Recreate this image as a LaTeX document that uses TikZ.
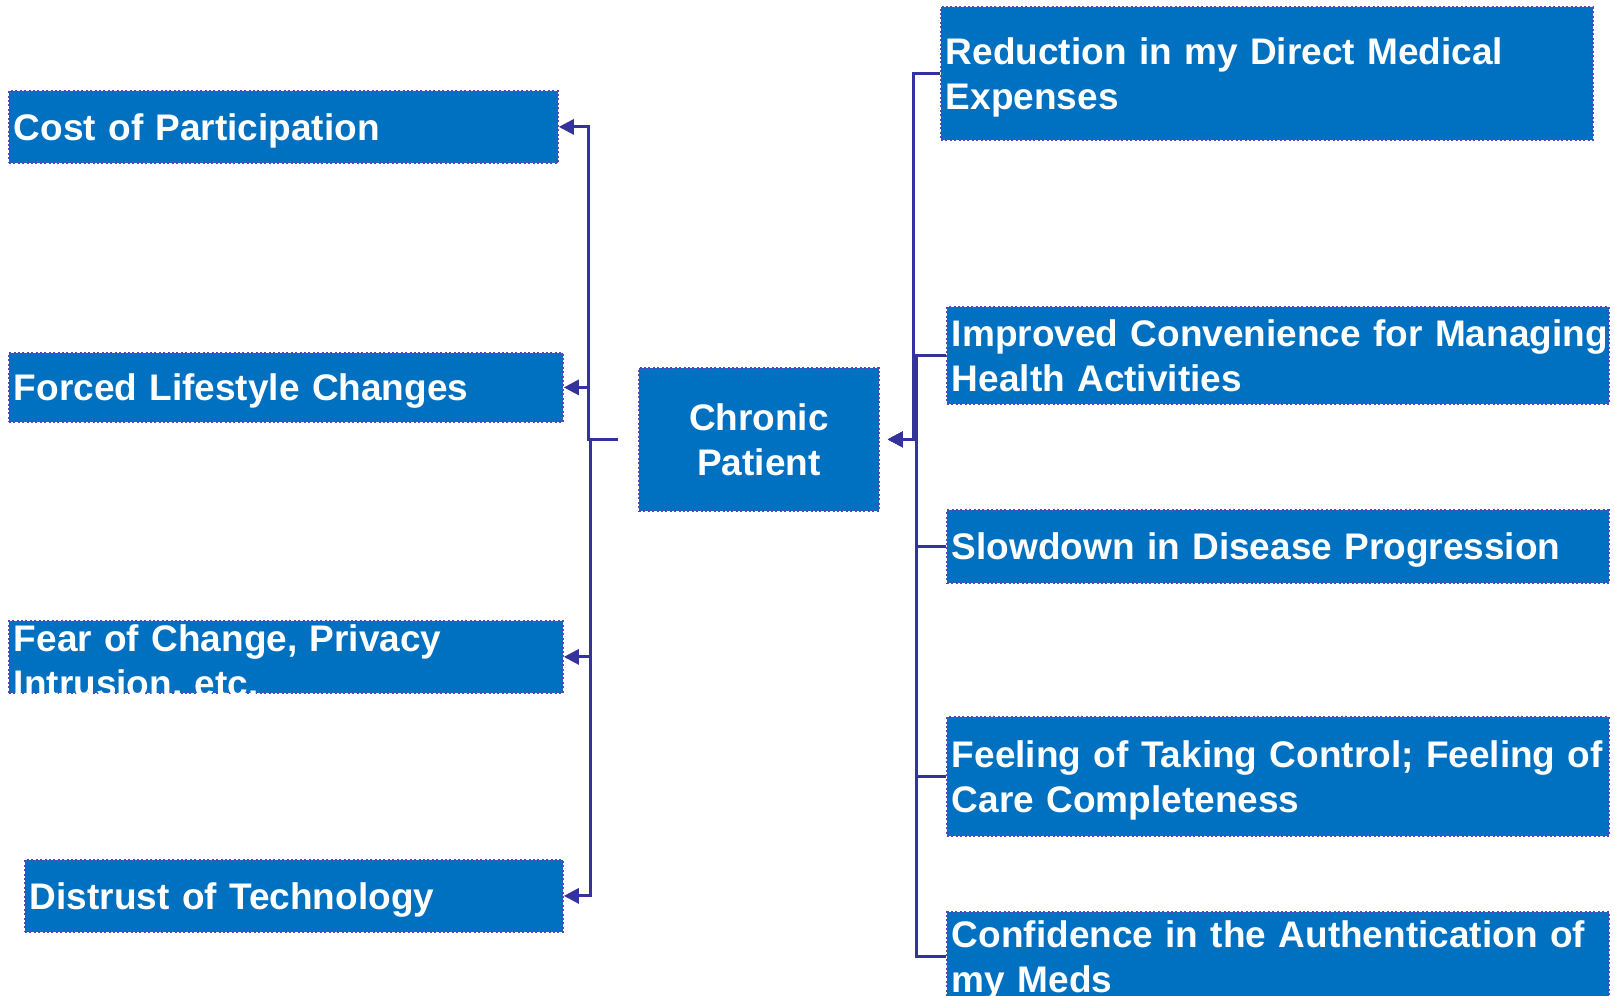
\documentclass[tikz,border=0pt]{standalone}
\usepackage{fontspec}
\setmainfont{Liberation Sans}
\usetikzlibrary{arrows.meta}
\definecolor{boxblue}{RGB}{0,112,192}
\definecolor{linkblue}{RGB}{52,50,156}
\definecolor{edgeblue}{RGB}{90,70,185}
\begin{document}
\begin{tikzpicture}[x=1pt,y=-1pt,
  box/.style={draw=edgeblue, dash pattern=on 2pt off 2.4pt, line width=1.8pt, fill=boxblue,
    text=white, font=\fontsize{37}{45}\selectfont\bfseries, anchor=north west,
    inner xsep=5pt, inner ysep=0pt, align=left, text depth=0pt},
  twoline/.style={text depth=45pt},
  link/.style={draw=linkblue, line width=3pt, solid,
    -{Triangle[length=15pt,width=15pt]}}]
\useasboundingbox (0,0) rectangle (1615,996);

% left boxes
\node[box, minimum width=549pt, minimum height=72pt, text width=539pt] (cost) at (8,90) {Cost of Participation};
\node[box, minimum width=554pt, minimum height=69pt, text width=544pt] (forced) at (8,352) {Forced Lifestyle Changes};
\node[box, minimum width=554pt, minimum height=72pt, text width=544pt, text height=31pt, text depth=41pt] (fear) at (8,620) {Fear of Change, Privacy\\Intrusion, etc.};
\node[box, minimum width=538pt, minimum height=72pt, text width=528pt] (distrust) at (24,859) {Distrust of Technology};

% centre
\node[box, twoline, align=center, minimum width=240pt, minimum height=143pt, text width=230pt] (chronic) at (638,367) {Chronic\\Patient};

% right boxes
\node[box, twoline, minimum width=652pt, minimum height=133pt, text width=642pt] (reduction) at (940,6) {Reduction in my Direct Medical\\Expenses};
\node[box, twoline, minimum width=662pt, minimum height=97pt, text width=652pt] (improved) at (946,306) {\mbox{Improved Convenience for Managing}\\Health Activities};
\node[box, minimum width=662pt, minimum height=73pt, text width=652pt] (slowdown) at (946,509) {Slowdown in Disease Progression};
\node[box, twoline, minimum width=662pt, minimum height=119pt, text width=652pt] (feeling) at (946,716) {\mbox{Feeling of Taking Control; Feeling of}\\Care Completeness};
\node[box, twoline, minimum width=662pt, minimum height=90pt, text width=652pt] (confidence) at (946,911) {\mbox{Confidence in the Authentication of}\\my Meds};

% left connectors
\draw[link, shorten <=20pt] (chronic.west) -- ++(-50,0) |- (cost.east);
\draw[link, shorten <=20pt] (chronic.west) -- ++(-50,0) |- (forced.east);
\draw[link, shorten <=20pt] (chronic.west) -- ++(-48,0) |- (fear.east);
\draw[link, shorten <=20pt] (chronic.west) -- ++(-48,0) |- (distrust.east);

% right connectors
\draw[link, shorten >=8pt] (reduction.west) -- ++(-27,0) |- (chronic.east);
\draw[link, shorten >=8pt] (improved.west) -- ++(-30,0) |- (chronic.east);
\draw[link, shorten >=8pt] (slowdown.west) -- ++(-30,0) |- (chronic.east);
\draw[link, shorten >=8pt] (feeling.west) -- ++(-30,0) |- (chronic.east);
\draw[link, shorten >=8pt] (confidence.west) -- ++(-30,0) |- (chronic.east);
\end{tikzpicture}
\end{document}
